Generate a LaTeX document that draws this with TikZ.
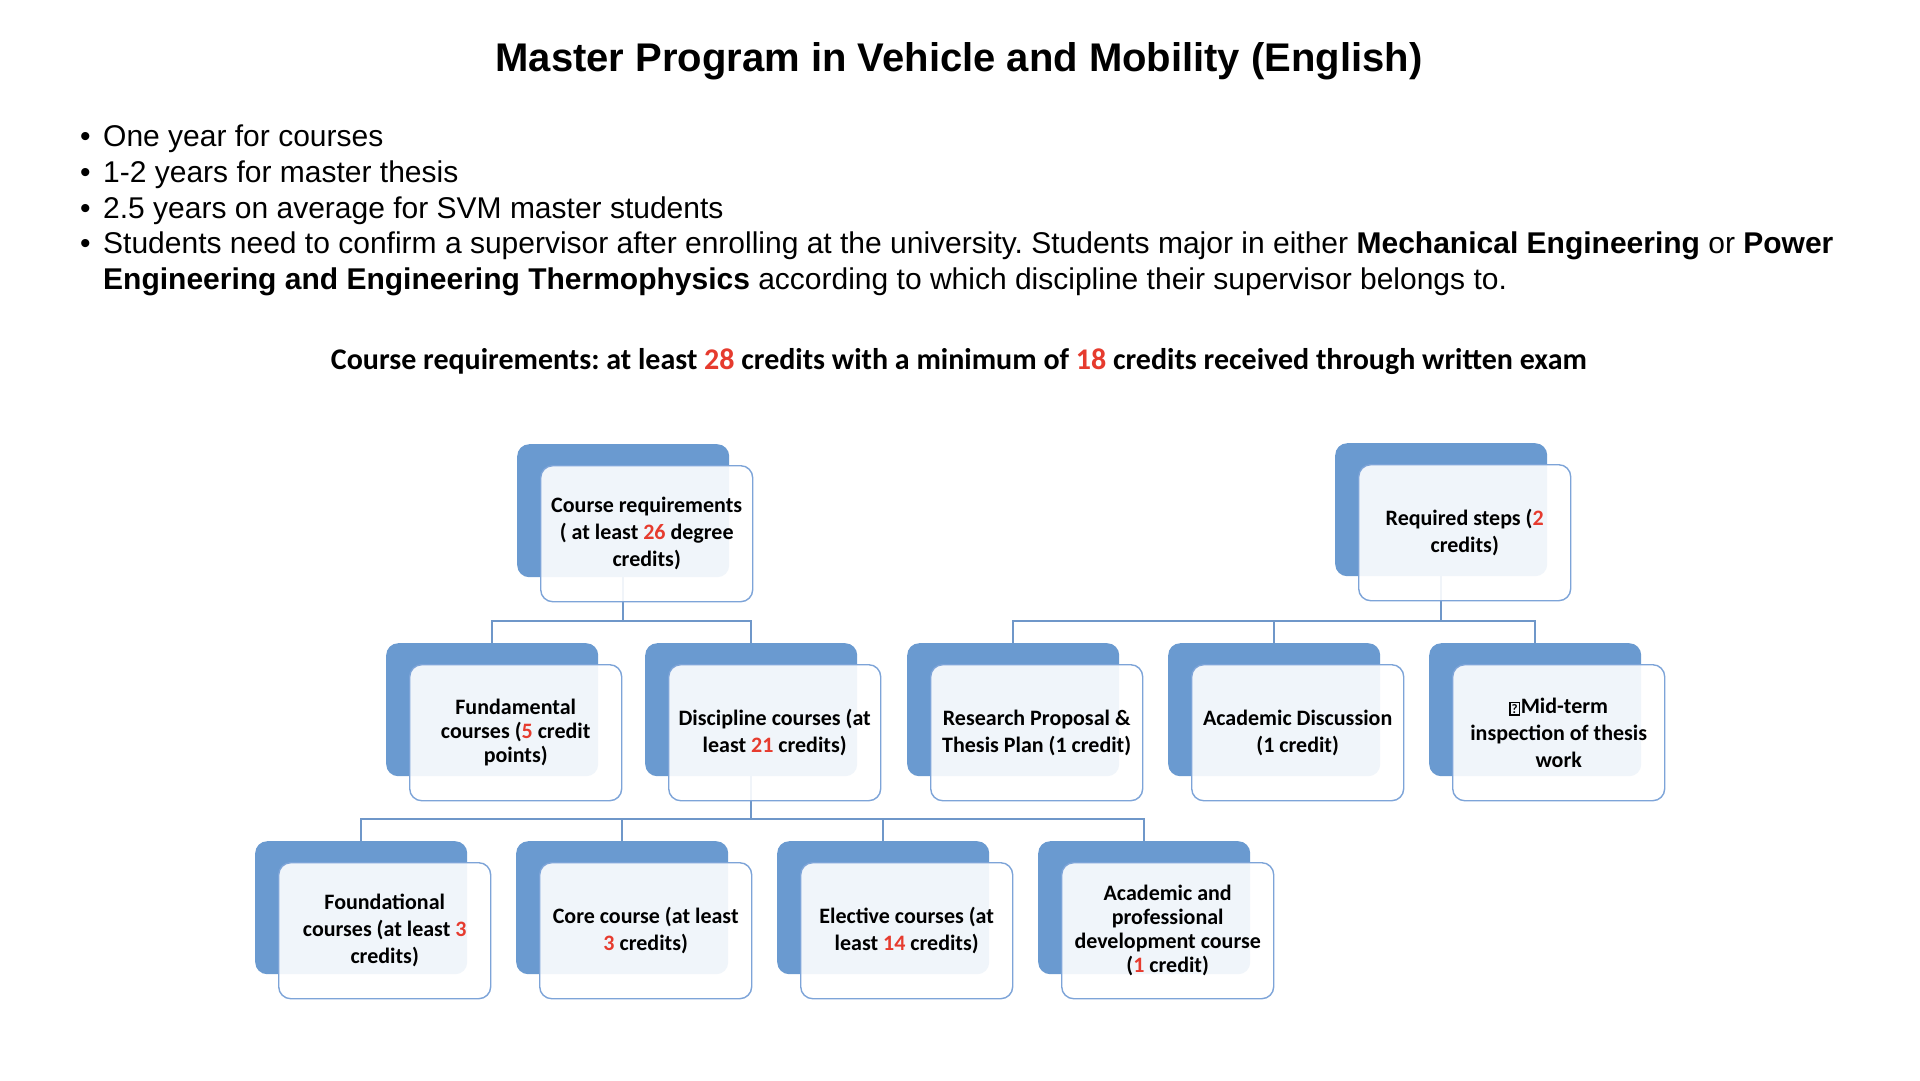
\documentclass[tikz,border=0pt]{standalone}
\usepackage{fontspec}
\setmainfont{Liberation Sans}
\newfontfamily\calfont{Carlito}
\usetikzlibrary{calc}
\frenchspacing
\definecolor{backblue}{HTML}{6A9AD0}
\definecolor{frontline}{HTML}{7DA4D8}
\definecolor{conn}{HTML}{6F97C9}
\definecolor{redn}{HTML}{E63B2E}
\newcommand{\R}[1]{\textcolor{redn}{#1}}
\newcommand{\tofu}{{\setlength{\fboxsep}{1pt}\setlength{\fboxrule}{1.2pt}\fbox{\fontsize{13}{13}\selectfont ?}\hspace{1pt}}}
\tikzset{
  backbox/.style={draw=none, fill=backblue, rounded corners=12pt, minimum width=212pt, minimum height=133pt, anchor=north west, inner sep=0pt},
  frontbox/.style={draw=frontline, line width=1.4pt, fill=white, fill opacity=0.9, text opacity=1, rounded corners=12pt, minimum width=212pt, minimum height=136pt, anchor=north west, inner sep=0pt, align=center, font=\calfont\bfseries\fontsize{22}{27}\selectfont},
  tight/.style={font=\calfont\bfseries\fontsize{22}{24}\selectfont},
  connline/.style={draw=conn, line width=2pt},
  bullettext/.style={anchor=base west, inner sep=0pt, font=\fontsize{30}{36}\selectfont},
}
\begin{document}
\begin{tikzpicture}[x=1pt,y=-1pt]
\useasboundingbox (0,0) rectangle (1920,1080);
\fill[white] (0,0) rectangle (1920,1080);

% title
\node[font=\bfseries\fontsize{40}{46}\selectfont, inner sep=0pt] (title) at (959,61) {Master Program in Vehicle and Mobility (English)};

% bullets
\node[bullettext] (d1) at (80,146) {•};
\node[bullettext] (t1) at (103,146) {One year for courses};
\node[bullettext] (d2) at (80,182) {•};
\node[bullettext] (t2) at (103,182) {1-2 years for master thesis};
\node[bullettext] (d3) at (80,218) {•};
\node[bullettext] (t3) at (103,218) {2.5 years on average for SVM master students};
\node[bullettext] (d4) at (80,253) {•};
\node[bullettext] (t4) at (103,253) {Students need to confirm a supervisor after enrolling at the university. Students major in either \textbf{Mechanical Engineering} or \textbf{Power}};
\node[bullettext] (t5) at (103,289) {\textbf{Engineering and Engineering Thermophysics} according to which discipline their supervisor belongs to.};

% subtitle
\node[font=\calfont\bfseries\fontsize{30}{34}\selectfont, inner sep=0pt] (sub) at (959,362) {Course requirements: at least \R{28} credits with a minimum of \R{18} credits received through written exam};

% back boxes
\node[backbox] (crb) at (517,444) {};
\node[backbox] (rsb) at (1335,443) {};
\node[backbox] (fub) at (386,643) {};
\node[backbox] (dib) at (645,643) {};
\node[backbox] (reb) at (907,643) {};
\node[backbox] (adb) at (1168,643) {};
\node[backbox] (mtb) at (1429,643) {};
\node[backbox] (fob) at (255,841) {};
\node[backbox] (cob) at (516,841) {};
\node[backbox] (elb) at (777,841) {};
\node[backbox] (apb) at (1038,841) {};

% connectors
\coordinate (j1) at ($(crb.south)+(0,44)$);
\draw[connline] (crb.south) -- (j1) -| (fub.north);
\draw[connline] (j1) -| (dib.north);
\coordinate (j2) at ($(rsb.south)+(0,45)$);
\draw[connline] (rsb.south) -- (j2) -| (reb.north);
\draw[connline] (j2) -| (adb.north);
\draw[connline] (j2) -| (mtb.north);
\coordinate (j3) at ($(dib.south)+(0,43)$);
\draw[connline] (dib.south) -- (j3) -| (fob.north);
\draw[connline] (j3) -| (cob.north);
\draw[connline] (j3) -| (elb.north);
\draw[connline] (j3) -| (apb.north);

% front boxes
\node[frontbox] (crf) at ([shift={(23,21)}]crb.north west) {Course requirements\\( at least \R{26} degree\\credits)};
\node[frontbox] (rsf) at ([shift={(23,21)}]rsb.north west) {Required steps (\R{2}\\credits)};
\node[frontbox, tight] (fuf) at ([shift={(23,21)}]fub.north west) {Fundamental\\courses (\R{5} credit\\points)};
\node[frontbox] (dif) at ([shift={(23,21)}]dib.north west) {Discipline courses (at\\least \R{21} credits)};
\node[frontbox] (ref) at ([shift={(23,21)}]reb.north west) {Research Proposal \&\\Thesis Plan (1 credit)};
\node[frontbox] (adf) at ([shift={(23,21)}]adb.north west) {Academic Discussion\\(1 credit)};
\node[frontbox] (mtf) at ([shift={(23,21)}]mtb.north west) {\tofu Mid-term\\inspection of thesis\\work};
\node[frontbox] (fof) at ([shift={(23,21)}]fob.north west) {Foundational\\courses (at least \R{3}\\credits)};
\node[frontbox] (cof) at ([shift={(23,21)}]cob.north west) {Core course (at least\\\R{3} credits)};
\node[frontbox] (elf) at ([shift={(23,21)}]elb.north west) {Elective courses (at\\least \R{14} credits)};
\node[frontbox, tight] (apf) at ([shift={(23,21)}]apb.north west) {Academic and\\professional\\development course\\(\R{1} credit)};
\end{tikzpicture}
\end{document}
